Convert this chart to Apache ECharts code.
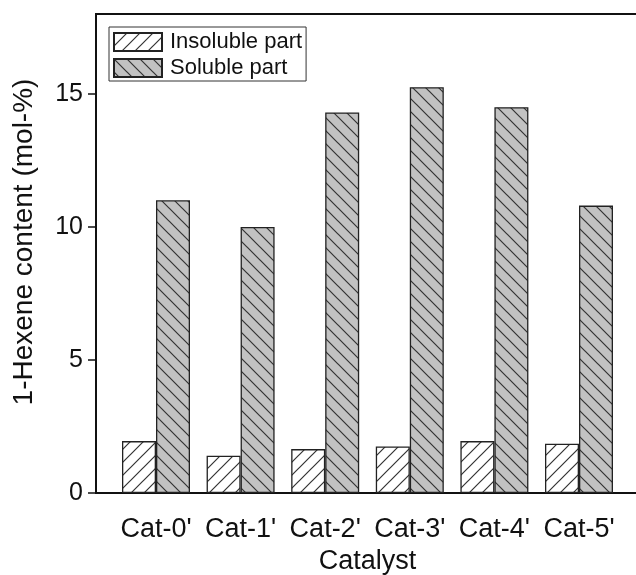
<!DOCTYPE html>
<html><head><meta charset="utf-8">
<script src="https://cdn.jsdelivr.net/npm/echarts@6/dist/echarts.min.js"></script>
<style>html,body{margin:0;padding:0;background:#fff}#c{width:636px;height:575px}</style>
</head><body><div id="c"></div>
<script>
const categories = ["Cat-0'", "Cat-1'", "Cat-2'", "Cat-3'", "Cat-4'", "Cat-5'"];
const insoluble = [1.95, 1.4, 1.65, 1.75, 1.95, 1.85];
const soluble = [11.0, 10.0, 14.3, 15.25, 14.5, 10.8];
const yMajorTicks = [0, 5, 10, 15];
const yMinorTicks = [2.5, 7.5, 12.5, 17.5];
const seriesNames = ['Insoluble part', 'Soluble part'];

function hatch(bg, dir) {
  const s = 13;
  const c = document.createElement('canvas');
  c.width = s; c.height = s;
  const g = c.getContext('2d');
  g.fillStyle = bg; g.fillRect(0, 0, s, s);
  g.strokeStyle = '#333'; g.lineWidth = 1.2;
  g.beginPath();
  if (dir === 'back') {
    g.moveTo(-2, -2); g.lineTo(s + 2, s + 2);
    g.moveTo(-2, s - 2); g.lineTo(2, s + 2);
    g.moveTo(s - 2, -2); g.lineTo(s + 2, 2);
  } else {
    g.moveTo(-2, s + 2); g.lineTo(s + 2, -2);
    g.moveTo(-2, 2); g.lineTo(2, -2);
    g.moveTo(s - 2, s + 2); g.lineTo(s + 2, s - 2);
  }
  g.stroke();
  return { image: c, repeat: 'repeat' };
}

const FONT = 'Liberation Sans';
const chart = echarts.init(document.getElementById('c'), null, { renderer: 'canvas' });
chart.setOption({
  animation: false,
  backgroundColor: '#fff',
  textStyle: { fontFamily: FONT, color: '#111' },
  grid: [
    { left: 96, top: 14, width: 543, bottom: 82, show: true, borderColor: '#111', borderWidth: 2,
      backgroundColor: 'transparent', containLabel: false, outerBoundsMode: 'none' },
    { left: 113.7, top: 14, width: 507.6, bottom: 82, containLabel: false, outerBoundsMode: 'none' }
  ],
  legend: {
    left: 109, top: 27, orient: 'vertical',
    data: seriesNames,
    icon: 'rect', itemWidth: 48, itemHeight: 18, itemGap: 4,
    padding: [4, 4, 2, 4],
    borderColor: '#333', borderWidth: 1,
    textStyle: { fontFamily: FONT, fontSize: 22, color: '#111', padding: [0, 0, 0, 3] }
  },
  xAxis: [
    { gridIndex: 0, type: 'value', min: 0, max: 1, axisLine: { show: true, lineStyle: { color: '#111', width: 2 } },
      axisTick: { show: false }, axisLabel: { show: false }, splitLine: { show: false } },
    { gridIndex: 1, type: 'category', data: categories,
      axisLine: { show: false }, axisTick: { show: false },
      axisLabel: { interval: 0, fontFamily: FONT, fontSize: 27, color: '#111', margin: 23 },
      name: 'Catalyst', nameLocation: 'middle', nameGap: 54,
      nameTextStyle: { fontFamily: FONT, fontSize: 27, color: '#111' } }
  ],
  yAxis: [
    { gridIndex: 0, type: 'value', min: 0, max: 18,
      axisLine: { show: true, lineStyle: { color: '#111', width: 2 } },
      axisTick: { show: true, length: 8, customValues: yMajorTicks, lineStyle: { color: '#111', width: 1.5 } },
      axisLabel: { customValues: yMajorTicks, fontFamily: FONT, fontSize: 25, color: '#111', margin: 13 },
      splitLine: { show: false } },
    { gridIndex: 0, type: 'value', min: 0, max: 18,
      axisLine: { show: false },
      axisTick: { show: true, length: 4, customValues: yMinorTicks, lineStyle: { color: '#111', width: 1.5 } },
      axisLabel: { show: false }, splitLine: { show: false } },
    { gridIndex: 1, type: 'value', min: 0, max: 18, show: false }
  ],
  graphic: [{
    type: 'text', x: 24, y: 242, rotation: Math.PI / 2,
    style: { text: '1-Hexene content (mol-%)', font: '28px "Liberation Sans"', fill: '#111', align: 'center', verticalAlign: 'middle' }
  }],
  series: [
    { name: seriesNames[0], type: 'bar', xAxisIndex: 1, yAxisIndex: 2, data: insoluble,
      barWidth: 34, barGap: '0%',
      itemStyle: { color: hatch('#ffffff', 'fwd'), borderColor: '#222', borderWidth: 1.3 } },
    { name: seriesNames[1], type: 'bar', xAxisIndex: 1, yAxisIndex: 2, data: soluble,
      barWidth: 34, barGap: '0%',
      itemStyle: { color: hatch('#c2c2c2', 'back'), borderColor: '#222', borderWidth: 1.3 } }
  ]
});
</script></body></html>
